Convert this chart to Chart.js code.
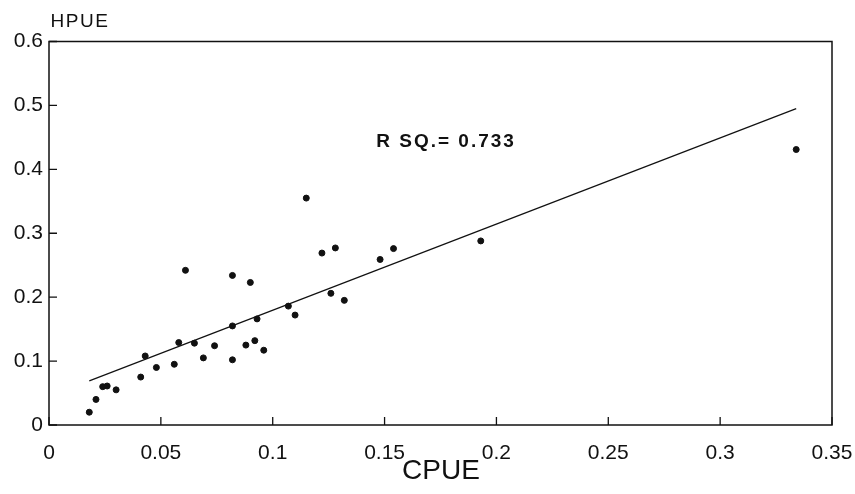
<!DOCTYPE html>
<html>
<head>
<meta charset="utf-8">
<script src="https://cdn.jsdelivr.net/npm/chart.js@4"></script>
<style>
  html, body { margin: 0; padding: 0; background: #fff; }
</style>
</head>
<body>
<canvas id="scatterChart" width="855" height="494"></canvas>
<script>
// catch / harvest per unit effort
const cpue = [0.018, 0.021, 0.024, 0.026, 0.030, 0.041, 0.043, 0.048, 0.056, 0.058, 0.061,
              0.065, 0.069, 0.074, 0.082, 0.082, 0.082, 0.088, 0.090, 0.092, 0.093, 0.096,
              0.107, 0.110, 0.115, 0.122, 0.128, 0.126, 0.132, 0.148, 0.154, 0.193, 0.334];
const hpue = [0.020, 0.040, 0.060, 0.061, 0.055, 0.075, 0.108, 0.090, 0.095, 0.129, 0.242,
              0.128, 0.105, 0.124, 0.234, 0.155, 0.102, 0.125, 0.223, 0.132, 0.166, 0.117,
              0.186, 0.172, 0.355, 0.269, 0.277, 0.206, 0.195, 0.259, 0.276, 0.288, 0.431];

// regression line end points
const fitX = [0.018, 0.334];
const fitY = [0.069, 0.495];

const rSquared = "R SQ.= 0.733";
const xTitle = "CPUE";
const yTitle = "HPUE";

const ink = "#111";
const tickFont = { family: "'Liberation Sans', Arial, sans-serif", size: 21 };

const fmt = (v) => String(Number(v.toFixed(2)));

const frame = {
    id: "frame",
    afterDraw(chart) {
        const { ctx, chartArea: a, scales } = chart;
        ctx.save();
        ctx.strokeStyle = ink;
        ctx.lineWidth = 1.5;
        ctx.strokeRect(a.left, a.top, a.right - a.left, a.bottom - a.top);

        // inward ticks
        ctx.lineWidth = 1.3;
        ctx.beginPath();
        scales.x.ticks.forEach((t) => {
            const px = scales.x.getPixelForValue(t.value);
            ctx.moveTo(px, a.bottom);
            ctx.lineTo(px, a.bottom - 8);
        });
        scales.y.ticks.forEach((t) => {
            const py = scales.y.getPixelForValue(t.value);
            ctx.moveTo(a.left, py);
            ctx.lineTo(a.left + 8, py);
        });
        ctx.stroke();

        ctx.fillStyle = ink;
        ctx.textAlign = "center";
        ctx.textBaseline = "middle";

        ctx.font = "28px 'Liberation Sans', Arial, sans-serif";
        ctx.fillText(xTitle, 441, 471);

        ctx.font = "19px 'Liberation Sans', Arial, sans-serif";
        ctx.letterSpacing = "1.5px";
        ctx.fillText(yTitle, 80, 22);

        ctx.font = "bold 19px 'Liberation Sans', Arial, sans-serif";
        ctx.letterSpacing = "2px";
        ctx.fillText(rSquared, scales.x.getPixelForValue(0.1775), scales.y.getPixelForValue(0.443));
        ctx.restore();
    }
};

new Chart(document.getElementById("scatterChart"), {
    type: "scatter",
    data: {
        datasets: [
            {
                label: "observed",
                data: cpue.map((x, i) => ({ x: x, y: hpue[i] })),
                backgroundColor: ink,
                borderColor: ink,
                pointRadius: 3,
                pointHoverRadius: 3,
            },
            {
                label: "fit",
                type: "line",
                data: fitX.map((x, i) => ({ x: x, y: fitY[i] })),
                borderColor: ink,
                borderWidth: 1.2,
                pointRadius: 0,
                fill: false,
            },
        ],
    },
    options: {
        responsive: false,
        animation: false,
        devicePixelRatio: 1,
        layout: { padding: { top: 41.5, right: 23, bottom: 0, left: 0 } },
        plugins: {
            legend: { display: false },
            tooltip: { enabled: false },
        },
        scales: {
            x: {
                type: "linear",
                min: 0,
                max: 0.35,
                afterFit: (s) => { s.height = 69; s.paddingLeft = 0; s.paddingRight = 0; },
                grid: { display: false, drawTicks: false },
                border: { display: false },
                ticks: {
                    stepSize: 0.05,
                    padding: 16,
                    color: ink,
                    font: tickFont,
                    callback: fmt,
                },
            },
            y: {
                min: 0,
                max: 0.6,
                afterFit: (s) => { s.width = 49; s.paddingTop = 0; s.paddingBottom = 0; },
                grid: { display: false, drawTicks: false },
                border: { display: false },
                ticks: {
                    stepSize: 0.1,
                    padding: 6,
                    color: ink,
                    font: tickFont,
                    callback: fmt,
                },
            },
        },
    },
    plugins: [frame],
});
</script>
</body>
</html>
